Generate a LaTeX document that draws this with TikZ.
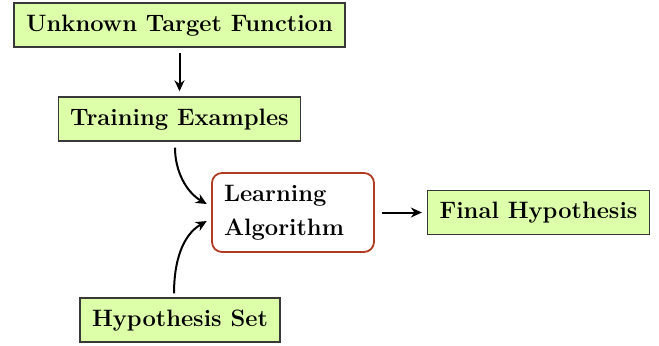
\documentclass[tikz,border=0pt]{standalone}
\usepackage{fontspec}
\newfontfamily\lmbxtw{lmroman12-bold.otf}
\usetikzlibrary{arrows.meta}
\definecolor{boxfill}{HTML}{DDFFAA}
\definecolor{boxline}{HTML}{383838}
\definecolor{laline}{HTML}{B03A22}
\newcommand{\boxfont}{\lmbxtw\fontsize{11.85}{17.2}\selectfont}
\begin{document}
\begin{tikzpicture}[x=0.5pt,y=-0.5pt,
  gbox/.style={draw=boxline, fill=boxfill, line width=0.7pt, font=\boxfont,
    inner xsep=6pt, minimum height=22pt, text height=8.6pt, text depth=2.6pt},
  lbox/.style={draw=laline, fill=white, line width=0.9pt, rounded corners=5pt,
    font=\boxfont, align=left, text width=69pt, inner xsep=6pt,
    minimum height=39.5pt},
  arr/.style={-{Stealth[length=5.5pt,width=5pt,inset=1.8pt]}, line width=1pt}
]
\useasboundingbox (0,0) rectangle (659,345);
\node[gbox] (utf) at (179.5,25) {Unknown Target Function};
\node[gbox] (te) at (179.5,119) {Training Examples};
\node[lbox] (la) at (293,212.5) {Learning\\Algorithm};
\node[gbox] (fh) at (538.5,212.5) {Final Hypothesis};
\node[gbox] (hs) at (180,320) {Hypothesis Set};
\draw[arr, shorten <=2.5pt, shorten >=2.5pt] (utf) -- (te);
\draw[arr, shorten <=3pt, shorten >=2.5pt] ([xshift=-2.25pt]te.south) to[out=-90,in=150] ([yshift=3pt]la.west);
\draw[arr, shorten <=2pt, shorten >=2.5pt] ([xshift=-3pt]hs.north) to[out=90,in=210] ([yshift=-3pt]la.west);
\draw[arr, shorten <=3.5pt, shorten >=2.5pt] (la) -- (fh);
\end{tikzpicture}
\end{document}
